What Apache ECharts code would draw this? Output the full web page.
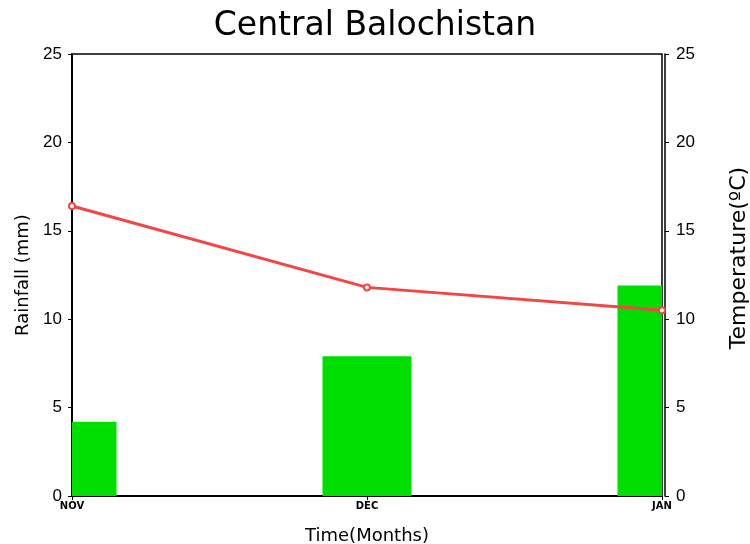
<!DOCTYPE html>
<html>
<head>
<meta charset="utf-8">
<script src="https://cdn.jsdelivr.net/npm/echarts@6/dist/echarts.min.js"></script>
<style>html,body{margin:0;padding:0;background:#fff}#container{width:750px;height:544px}</style>
</head>
<body>
<div id="container"></div>
<script>
var months = ['NOV', 'DEC', 'JAN'];
var rainfall = [4.2, 7.9, 11.9];
var temperature = [16.4, 11.8, 10.5];
var yTicks = [0, 5, 10, 15, 20, 25];

var dom = document.getElementById("container");
var myChart = echarts.init(dom);
var font = 'DejaVu Sans';
var tickFont = 'Liberation Sans';

// bars sit on the edge categories, so clip them to the plot box
function renderBar(params, api) {
    var top = api.coord([api.value(0), api.value(1)]);
    var base = api.coord([api.value(0), 0]);
    var w = 89;
    var cs = params.coordSys;
    var shape = echarts.graphic.clipRectByRect(
        { x: top[0] - w / 2, y: top[1], width: w, height: base[1] - top[1] },
        { x: cs.x, y: cs.y, width: cs.width, height: cs.height }
    );
    return shape && { type: 'rect', shape: shape, style: { fill: '#00dd00' } };
}

option = {
    animation: false,
    title: {
        text: 'Central Balochistan',
        left: 'center',
        top: 5,
        textStyle: { fontFamily: font, fontWeight: 'normal', fontSize: 33, color: '#000' }
    },
    grid: {
        left: 72, right: 88, top: 54, bottom: 48,
        containLabel: false,
        outerBoundsMode: 'none',
        show: true, borderColor: '#000', borderWidth: 1.5
    },
    xAxis: {
        type: 'category',
        data: months,
        boundaryGap: false,
        name: 'Time(Months)',
        nameLocation: 'middle',
        nameGap: 31,
        nameTextStyle: { fontFamily: font, fontSize: 18, color: '#000' },
        axisLine: { lineStyle: { color: '#000', width: 2 } },
        axisTick: { length: 4, lineStyle: { color: '#000' } },
        axisLabel: { fontFamily: font, fontSize: 10, fontWeight: 'bold', color: '#000', margin: 5 }
    },
    yAxis: [{
        type: 'value',
        min: yTicks[0], max: yTicks[yTicks.length - 1], interval: 5,
        name: 'Rainfall (mm)',
        nameLocation: 'middle',
        nameGap: 39,
        nameTextStyle: { fontFamily: font, fontSize: 18, color: '#000' },
        splitLine: { show: false },
        axisLine: { show: true, lineStyle: { color: '#000', width: 2 } },
        axisTick: { show: true, length: 4, lineStyle: { color: '#000' } },
        axisLabel: { fontFamily: tickFont, fontSize: 17, color: '#000', margin: 10 }
    }, {
        type: 'value',
        position: 'right',
        offset: 3,
        min: yTicks[0], max: yTicks[yTicks.length - 1], interval: 5,
        name: 'Temperature(ºC)',
        nameLocation: 'middle',
        nameGap: 63,
        nameTextStyle: { fontFamily: font, fontSize: 22, color: '#000', padding: [0, 0, 0, 34] },
        splitLine: { show: false },
        axisLine: { show: true, lineStyle: { color: '#000', width: 1.5 } },
        axisTick: { show: true, length: 4, lineStyle: { color: '#000' } },
        axisLabel: { fontFamily: tickFont, fontSize: 17, color: '#000', margin: 11 }
    }],
    series: [{
        name: 'Rainfall',
        type: 'custom',
        renderItem: renderBar,
        encode: { x: 0, y: 1 },
        data: months.map(function (m, i) { return [i, rainfall[i]]; })
    }, {
        name: 'Temperature',
        type: 'line',
        yAxisIndex: 1,
        data: temperature,
        symbol: 'emptyCircle',
        symbolSize: 6,
        clip: false,
        lineStyle: { color: '#f54444', width: 3 },
        itemStyle: { color: '#f54444', borderWidth: 2 }
    }]
};
myChart.setOption(option, true);
</script>
</body>
</html>
